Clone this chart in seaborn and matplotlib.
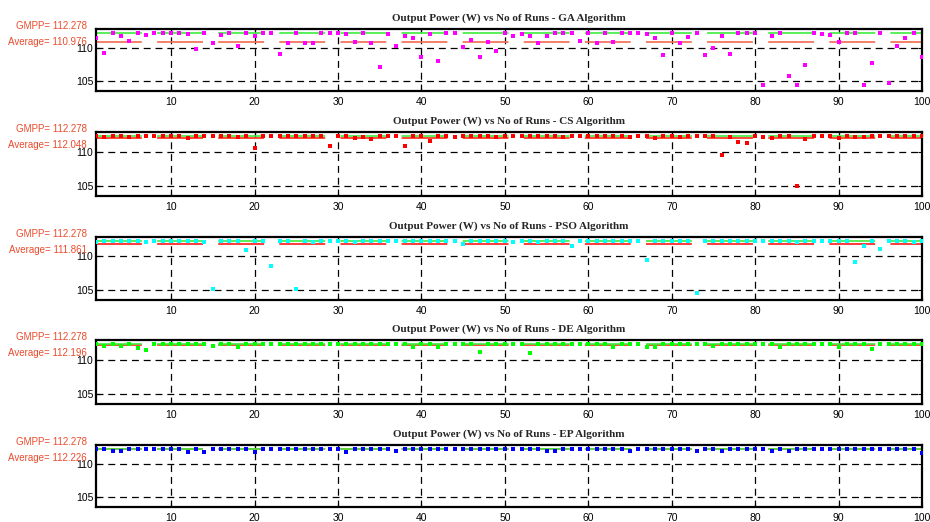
import matplotlib
matplotlib.use("Agg")
import matplotlib.pyplot as plt
import seaborn as sns
import pandas as pd

# ---------------- data ----------------
runs = list(range(1, 101))
algorithms = ["GA", "CS", "PSO", "DE", "EP"]
gmpp = 112.278
averages = [110.976, 112.048, 111.861, 112.196, 112.226]

ga_power = [
    111.5, 109.3, 112.27, 111.9, 111.1, 112.27, 112.0, 112.27, 112.27, 112.27,
    112.27, 112.1, 109.85, 112.27, 110.85, 112.0, 112.27, 110.25, 112.27, 111.77,
    112.27, 112.27, 109.15, 110.75, 112.27, 110.75, 110.75, 112.27, 112.27, 112.27,
    112.1, 111.0, 112.27, 110.75, 107.2, 112.1, 110.25, 111.9, 111.5, 108.6,
    112.1, 108.1, 112.27, 112.27, 110.15, 111.25, 108.6, 110.9, 109.6, 112.27,
    111.9, 112.1, 111.9, 110.85, 111.9, 112.27, 112.27, 112.27, 111.15, 112.27,
    110.75, 112.27, 111.0, 112.27, 112.27, 112.27, 112.1, 111.6, 108.9, 112.27,
    110.75, 111.65, 112.27, 109.0, 110.0, 111.9, 109.15, 112.27, 112.27, 112.27,
    104.4, 111.9, 112.27, 105.8, 104.4, 107.4, 112.27, 112.1, 112.0, 111.0,
    112.27, 112.27, 104.4, 107.7, 112.27, 104.7, 110.25, 111.5, 112.27, 108.7,
]
cs_power = [
    112.27, 112.1, 112.27, 112.27, 112.1, 112.27, 112.27, 112.27, 112.27, 112.27,
    112.27, 112.0, 112.27, 112.27, 112.27, 112.27, 112.27, 112.1, 112.27, 110.5,
    112.27, 112.27, 112.27, 112.27, 112.27, 112.27, 112.27, 112.27, 110.9, 112.27,
    112.27, 112.0, 112.1, 111.9, 112.27, 112.27, 112.27, 110.9, 112.27, 112.27,
    111.6, 112.27, 112.27, 112.1, 112.27, 112.27, 112.27, 112.27, 112.1, 112.27,
    112.27, 112.27, 112.27, 112.27, 112.27, 112.27, 112.1, 112.27, 112.27, 112.27,
    112.27, 112.27, 112.27, 112.27, 112.1, 112.27, 112.27, 112.0, 112.27, 112.27,
    112.1, 112.27, 112.27, 112.27, 112.27, 109.5, 112.1, 111.5, 111.3, 112.27,
    112.1, 112.0, 112.27, 112.27, 105.0, 111.8, 112.27, 112.27, 112.27, 112.0,
    112.27, 112.1, 112.1, 112.27, 112.27, 112.27, 112.27, 112.27, 112.27, 112.27,
]
pso_power = [
    112.1, 112.27, 112.27, 112.27, 112.27, 112.27, 112.2, 112.27, 112.27, 112.27,
    112.27, 112.27, 112.27, 112.1, 105.2, 112.27, 112.27, 112.27, 111.0, 112.27,
    112.27, 108.5, 112.27, 112.27, 105.2, 112.27, 112.1, 112.27, 112.27, 112.27,
    112.27, 112.1, 112.27, 112.27, 112.27, 112.27, 112.27, 112.27, 112.27, 112.27,
    112.27, 112.27, 112.27, 112.27, 111.8, 112.27, 112.27, 112.27, 112.27, 112.27,
    112.1, 112.27, 112.27, 112.1, 112.27, 112.27, 112.27, 111.6, 112.27, 112.27,
    112.27, 112.27, 112.27, 112.27, 112.27, 112.27, 109.45, 112.27, 112.27, 112.27,
    112.27, 112.27, 104.5, 112.27, 112.27, 112.27, 112.27, 112.27, 112.27, 112.27,
    112.27, 112.27, 112.27, 112.27, 112.1, 112.27, 112.27, 112.27, 112.27, 112.27,
    112.27, 109.1, 111.6, 112.27, 111.1, 112.27, 112.27, 112.27, 112.1, 112.27,
]
de_power = [
    112.26, 112.0, 112.26, 112.0, 112.26, 111.7, 111.45, 112.26, 112.26, 112.26,
    112.26, 112.26, 112.26, 112.26, 112.0, 112.26, 112.26, 111.8, 112.26, 112.26,
    112.26, 112.26, 112.26, 112.26, 112.26, 112.26, 112.26, 112.26, 112.26, 112.26,
    112.26, 112.26, 112.26, 112.26, 112.26, 112.26, 112.26, 112.26, 111.9, 112.26,
    112.26, 111.9, 112.26, 112.26, 112.26, 112.26, 111.2, 112.26, 112.26, 112.26,
    112.26, 112.26, 111.0, 112.26, 112.26, 112.26, 112.26, 112.26, 112.26, 112.26,
    112.26, 112.26, 111.9, 112.26, 112.26, 112.26, 111.9, 111.9, 112.26, 112.26,
    112.26, 112.26, 112.26, 112.26, 112.0, 112.26, 112.26, 112.26, 112.26, 112.26,
    112.26, 112.26, 111.8, 112.26, 112.26, 112.26, 112.26, 112.26, 112.26, 111.8,
    112.26, 112.26, 112.26, 111.6, 112.26, 112.26, 112.26, 112.26, 112.26, 112.26,
]
ep_power = [
    112.27, 112.27, 112.0, 112.0, 112.27, 112.27, 112.27, 112.27, 112.27, 112.27,
    112.27, 111.9, 112.27, 111.8, 112.27, 112.27, 112.27, 112.27, 112.27, 111.9,
    112.27, 112.27, 112.27, 112.27, 112.27, 112.27, 112.27, 112.27, 112.27, 112.27,
    111.9, 112.27, 112.27, 112.27, 112.27, 112.27, 112.0, 112.27, 112.27, 112.27,
    112.27, 112.27, 112.27, 112.27, 112.27, 112.27, 112.27, 112.27, 112.27, 112.27,
    112.27, 112.27, 112.27, 112.27, 112.05, 111.95, 112.27, 112.27, 112.27, 112.27,
    112.27, 112.27, 112.27, 112.27, 112.05, 112.27, 112.27, 112.27, 112.27, 112.27,
    112.27, 112.27, 111.95, 112.27, 112.27, 112.05, 112.27, 112.27, 112.27, 112.27,
    112.27, 112.05, 112.27, 112.05, 112.27, 112.27, 112.27, 112.27, 112.27, 112.27,
    112.27, 112.27, 112.27, 112.27, 112.27, 112.27, 112.27, 112.27, 112.27, 111.7,
]
series = [ga_power, cs_power, pso_power, de_power, ep_power]

x_ticks = [10, 20, 30, 40, 50, 60, 70, 80, 90, 100]
y_ticks = [105, 110]

# ---------------- style ----------------
marker_colors = ["#FF00FF", "#FF0000", "#00FFFF", "#00FF00", "#0000FF"]
avg_colors = ["#F26A4F", "#FF2A1A", "#FF1A1A", "#FF2A1A", "#FF2A1A"]
gmpp_color = "#3DEB3D"
label_color = "#EA4B2C"

sns.set_theme(style="white")
plt.rcParams["font.family"] = ["Liberation Sans", "DejaVu Sans"]
plt.rcParams["lines.scale_dashes"] = False

fig = plt.figure(figsize=(9.3, 5.22), dpi=100)

tops_px = [29, 132, 237, 340, 445]
bottoms_px = [91, 196, 300, 404, 507]
W, H = 930.0, 522.0
left_px, right_px = 96, 922

for k, alg in enumerate(algorithms):
    b = 1 - bottoms_px[k] / H
    h = (bottoms_px[k] - tops_px[k]) / H
    ax = fig.add_axes([left_px / W, b, (right_px - left_px) / W, h])
    df = pd.DataFrame({"run": runs, "power": series[k]})

    # grid
    for xt in x_ticks[:-1]:
        ax.axvline(xt, color="black", lw=0.9, dashes=(5, 3.5), zorder=1)
    for yt in y_ticks:
        ax.axhline(yt, color="black", lw=0.9, dashes=(5, 3.5), zorder=1)

    # average and GMPP reference lines
    ax.plot([runs[0], runs[-1]], [averages[k], averages[k]], color=avg_colors[k],
            lw=1.2, dashes=(33, 11), zorder=2)
    ax.plot([runs[0], runs[-1]], [gmpp, gmpp], color=gmpp_color,
            lw=1.2, dashes=(33, 11), zorder=2)

    sns.scatterplot(data=df, x="run", y="power", ax=ax, color=marker_colors[k],
                    marker="s", s=8, linewidth=0, zorder=3, legend=False)

    ax.set_xlim(1, 100)
    ax.set_ylim(103.5, 112.9)
    ax.set_xticks(x_ticks)
    ax.set_yticks(y_ticks)
    ax.set_xlabel("")
    ax.set_ylabel("")
    ax.tick_params(axis="both", direction="in", length=3, width=0.8,
                   labelsize=7.5, colors="black", pad=2,
                   top=True, right=True, bottom=True, left=True)
    ax.tick_params(axis="x", pad=4)
    for sp in ax.spines.values():
        sp.set_visible(True)
        sp.set_color("black")
        sp.set_linewidth(1.6)

    ax.set_title(f"Output Power (W) vs No of Runs - {alg} Algorithm",
                 fontsize=8, fontweight="bold",
                 fontfamily=["Liberation Serif", "DejaVu Serif"], pad=6)

    ax.text(-0.011, 1.05, f"GMPP= {gmpp:.3f}", transform=ax.transAxes,
            ha="right", va="center", fontsize=7, color=label_color)
    ax.text(-0.011, 0.79, f"Average= {averages[k]:.3f}", transform=ax.transAxes,
            ha="right", va="center", fontsize=7, color=label_color)

fig.savefig("out.png", dpi=100)
